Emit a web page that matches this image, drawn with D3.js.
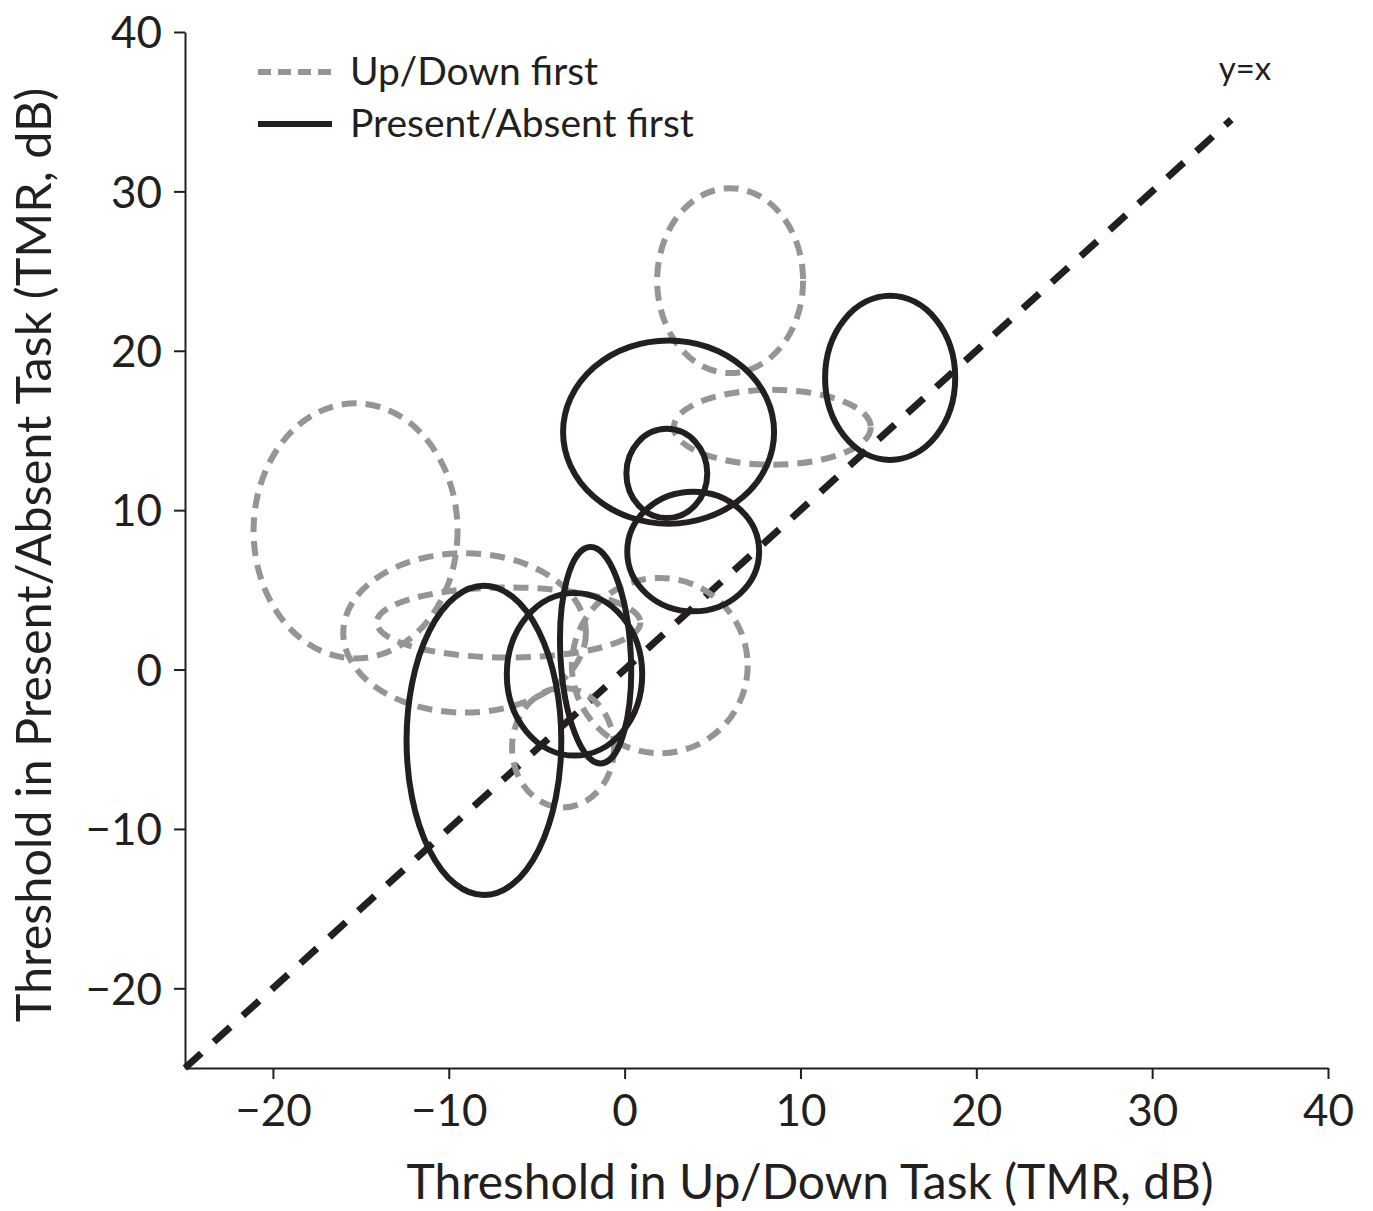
<!DOCTYPE html>
<html>
<head>
<meta charset="utf-8">
<script src="https://cdn.jsdelivr.net/npm/d3@7"></script>
<style>
  html, body { margin: 0; padding: 0; background: #fff; }
  text { font-family: Lato, "Open Sans", sans-serif; fill: #231f20; }
</style>
</head>
<body>
<svg id="chart" width="1373" height="1211"></svg>
<script>
// ellipses: Up/Down first (grey dashed)
const grayCx = [6.0, 8.4, -15.3, -9.1, -6.6, 2.0, -3.5];
const grayCy = [24.4, 15.2, 8.7, 2.3, 2.95, 0.25, -4.9];
const grayRx = [4.15, 5.6, 5.8, 6.9, 7.5, 5.0, 2.9];
const grayRy = [5.8, 2.35, 8.0, 5.0, 2.2, 5.5, 3.75];

// ellipses: Present/Absent first (black solid)
const blackCx = [2.5, 2.4, 3.9, 15.1, -8.0, -2.85, -1.65];
const blackCy = [14.9, 12.3, 7.4, 18.3, -4.45, -0.3, 0.9];
const blackRx = [6.0, 2.3, 3.75, 3.7, 4.4, 3.85, 2.0];
const blackRy = [5.75, 2.8, 3.75, 5.15, 9.7, 5.1, 6.8];
const blackAngle = [0, 0, 0, 0, 0, 0, -3];

const xTicks = [-20, -10, 0, 10, 20, 30, 40];
const yTicks = [-20, -10, 0, 10, 20, 30, 40];
const diagEnd = 34.5;

const svg = d3.select("#chart");
const ink = "#231f20", grey = "#939598";

const x = d3.scaleLinear().domain([-25, 40]).range([185, 1328]);
const y = d3.scaleLinear().domain([-25, 40]).range([1068, 32]);

const fmt = d => d < 0 ? "\u2212" + Math.abs(d) : String(d);

// axes
const xAxis = svg.append("g")
  .attr("transform", `translate(0,${y(-25)})`)
  .call(d3.axisBottom(x).tickValues(xTicks).tickSize(11).tickPadding(16).tickFormat(fmt).tickSizeOuter(0));
const yAxis = svg.append("g")
  .attr("transform", `translate(${x(-25)},0)`)
  .call(d3.axisLeft(y).tickValues(yTicks).tickSize(11).tickPadding(12).tickFormat(fmt).tickSizeOuter(0));

[xAxis, yAxis].forEach(a => {
  a.select(".domain").attr("stroke", ink).attr("stroke-width", 2);
  a.selectAll(".tick line").attr("stroke", ink).attr("stroke-width", 2);
  a.selectAll(".tick text").attr("font-size", 44).attr("font-family", "Lato").attr("fill", ink);
});
yAxis.selectAll(".tick text").attr("dy", "0.36em");

// axis titles
svg.append("text")
  .attr("x", 810).attr("y", 1199)
  .attr("text-anchor", "middle")
  .attr("font-size", 48)
  .text("Threshold in Up/Down Task (TMR, dB)");

svg.append("text")
  .attr("transform", `translate(51,${555}) rotate(-90)`)
  .attr("text-anchor", "middle")
  .attr("font-size", 48.5)
  .text("Threshold in Present/Absent Task (TMR, dB)");

// y = x line
svg.append("line")
  .attr("x1", x(-25)).attr("y1", y(-25))
  .attr("x2", x(diagEnd)).attr("y2", y(diagEnd))
  .attr("stroke", ink).attr("stroke-width", 7)
  .attr("stroke-dasharray", "22,17");

svg.append("text")
  .attr("x", 1245).attr("y", 80)
  .attr("text-anchor", "middle")
  .attr("font-size", 33)
  .text("y=x");

function drawEllipses(cx, cy, rx, ry, ang, style) {
  const data = cx.map((c, i) => ({cx: c, cy: cy[i], rx: rx[i], ry: ry[i], a: ang ? ang[i] : 0}));
  svg.append("g").selectAll("ellipse")
    .data(data)
    .join("ellipse")
    .attr("cx", d => x(d.cx))
    .attr("cy", d => y(d.cy))
    .attr("rx", d => x(d.cx + d.rx) - x(d.cx))
    .attr("ry", d => y(d.cy) - y(d.cy + d.ry))
    .attr("transform", d => `rotate(${d.a},${x(d.cx)},${y(d.cy)})`)
    .attr("fill", "none")
    .attr("stroke", style.color)
    .attr("stroke-width", style.width)
    .attr("stroke-dasharray", style.dash);
}

drawEllipses(grayCx, grayCy, grayRx, grayRy, null, {color: grey, width: 6, dash: "15,9"});
drawEllipses(blackCx, blackCy, blackRx, blackRy, blackAngle, {color: ink, width: 6, dash: null});

// legend
const legend = svg.append("g");
legend.append("line")
  .attr("x1", 258).attr("x2", 332).attr("y1", 72).attr("y2", 72)
  .attr("stroke", grey).attr("stroke-width", 6).attr("stroke-dasharray", "13,7");
legend.append("text").attr("x", 350).attr("y", 85).attr("font-size", 39).text("Up/Down first");
legend.append("line")
  .attr("x1", 258).attr("x2", 332).attr("y1", 124).attr("y2", 124)
  .attr("stroke", ink).attr("stroke-width", 6);
legend.append("text").attr("x", 350).attr("y", 137).attr("font-size", 39).text("Present/Absent first");
</script>
</body>
</html>
